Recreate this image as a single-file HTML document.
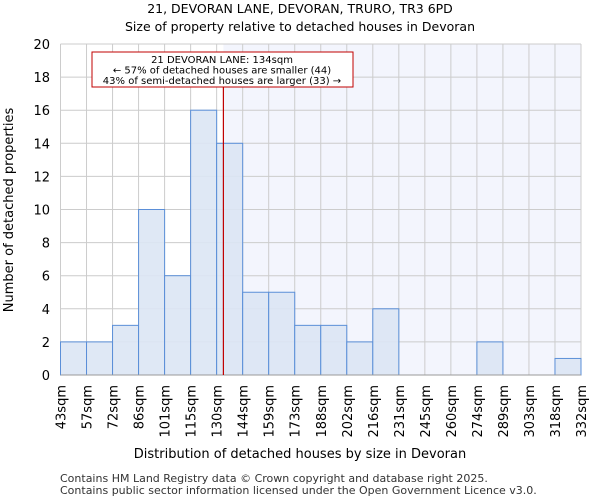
<!DOCTYPE html>
<html><head><meta charset="utf-8"><style>
body{margin:0;background:#fff;font-family:"DejaVu Sans","Liberation Sans",sans-serif;}
svg text{font-family:"DejaVu Sans","Liberation Sans",sans-serif;}
</style></head><body>
<svg id="c" width="600" height="500" xmlns="http://www.w3.org/2000/svg">
<text x="300" y="13" text-anchor="middle" font-size="12.5">21, DEVORAN LANE, DEVORAN, TRURO, TR3 6PD</text>
<text x="300" y="31" text-anchor="middle" font-size="12.5">Size of property relative to detached houses in Devoran</text>
<g id="plot"></g>
<text x="300" y="458" text-anchor="middle" font-size="13">Distribution of detached houses by size in Devoran</text>
<text transform="translate(13,210) rotate(-90)" text-anchor="middle" font-size="13">Number of detached properties</text>
<text x="60" y="482" font-size="11" fill="#333">Contains HM Land Registry data © Crown copyright and database right 2025.</text>
<text x="60" y="494" font-size="11" fill="#333">Contains public sector information licensed under the Open Government Licence v3.0.</text>
</svg>
<script>
const binLabels=["43sqm","57sqm","72sqm","86sqm","101sqm","115sqm","130sqm","144sqm","159sqm","173sqm","188sqm","202sqm","216sqm","231sqm","245sqm","260sqm","274sqm","289sqm","303sqm","318sqm","332sqm"];
const counts=[2,2,3,10,6,16,14,5,5,3,3,2,4,0,0,0,2,0,0,1];
const yTicks=[0,2,4,6,8,10,12,14,16,18,20];
const propertySize=134;
const binStart=43, binEnd=332;
const NS="http://www.w3.org/2000/svg";
const L=60.5,R=581,T=44,B=375;
const nb=counts.length,bw=(R-L)/nb;
const x=i=>L+i*bw;
const y=v=>B-(B-T)*v/20;
const xs=v=>L+(v-binStart)/(binEnd-binStart)*(R-L);
const g=document.getElementById('plot');
function mk(t,a){const e=document.createElementNS(NS,t);for(const k in a)e.setAttribute(k,a[k]);g.appendChild(e);return e;}
const lx=xs(propertySize)-1;
let e=mk('rect',{x:lx,y:T,width:R-lx,height:B-T,fill:'#f3f5fd'});


yTicks.forEach(t=>{let l=mk('line',{x1:L,x2:R,y1:y(t),y2:y(t),stroke:'#cccccc'});


let tx=mk('text',{x:50,y:y(t)+5,'text-anchor':'end','font-size':13});tx.textContent=t;

});
binLabels.forEach((s,i)=>{let l=mk('line',{x1:x(i),x2:x(i),y1:T,y2:B,stroke:'#cccccc'});


let tx=mk('text',{transform:`translate(${x(i)+5},385) rotate(-90)`,'text-anchor':'end','font-size':13});tx.textContent=s;

});
counts.forEach((c,i)=>{if(c<=0)return;let r=mk('rect',{x:x(i),y:y(c),width:bw,height:B-y(c),fill:'#dbe5f4','fill-opacity':0.9,stroke:'#5b8fd8','stroke-width':1});

});
let ax=mk('line',{x1:L,x2:R,y1:B,y2:B,stroke:'#999'});


let pl=mk('line',{x1:lx,x2:lx,y1:T+43,y2:B,stroke:'#c00000','stroke-width':1.2});


let bx=mk('rect',{x:92,y:52,width:261,height:35,fill:'#fff',stroke:'#c00000'});


["21 DEVORAN LANE: 134sqm","← 57% of detached houses are smaller (44)","43% of semi-detached houses are larger (33) →"].forEach((s,i)=>{let t=mk('text',{x:222,y:63+i*10.5,'text-anchor':'middle','font-size':10});t.textContent=s;

});
</script>
</body></html>
